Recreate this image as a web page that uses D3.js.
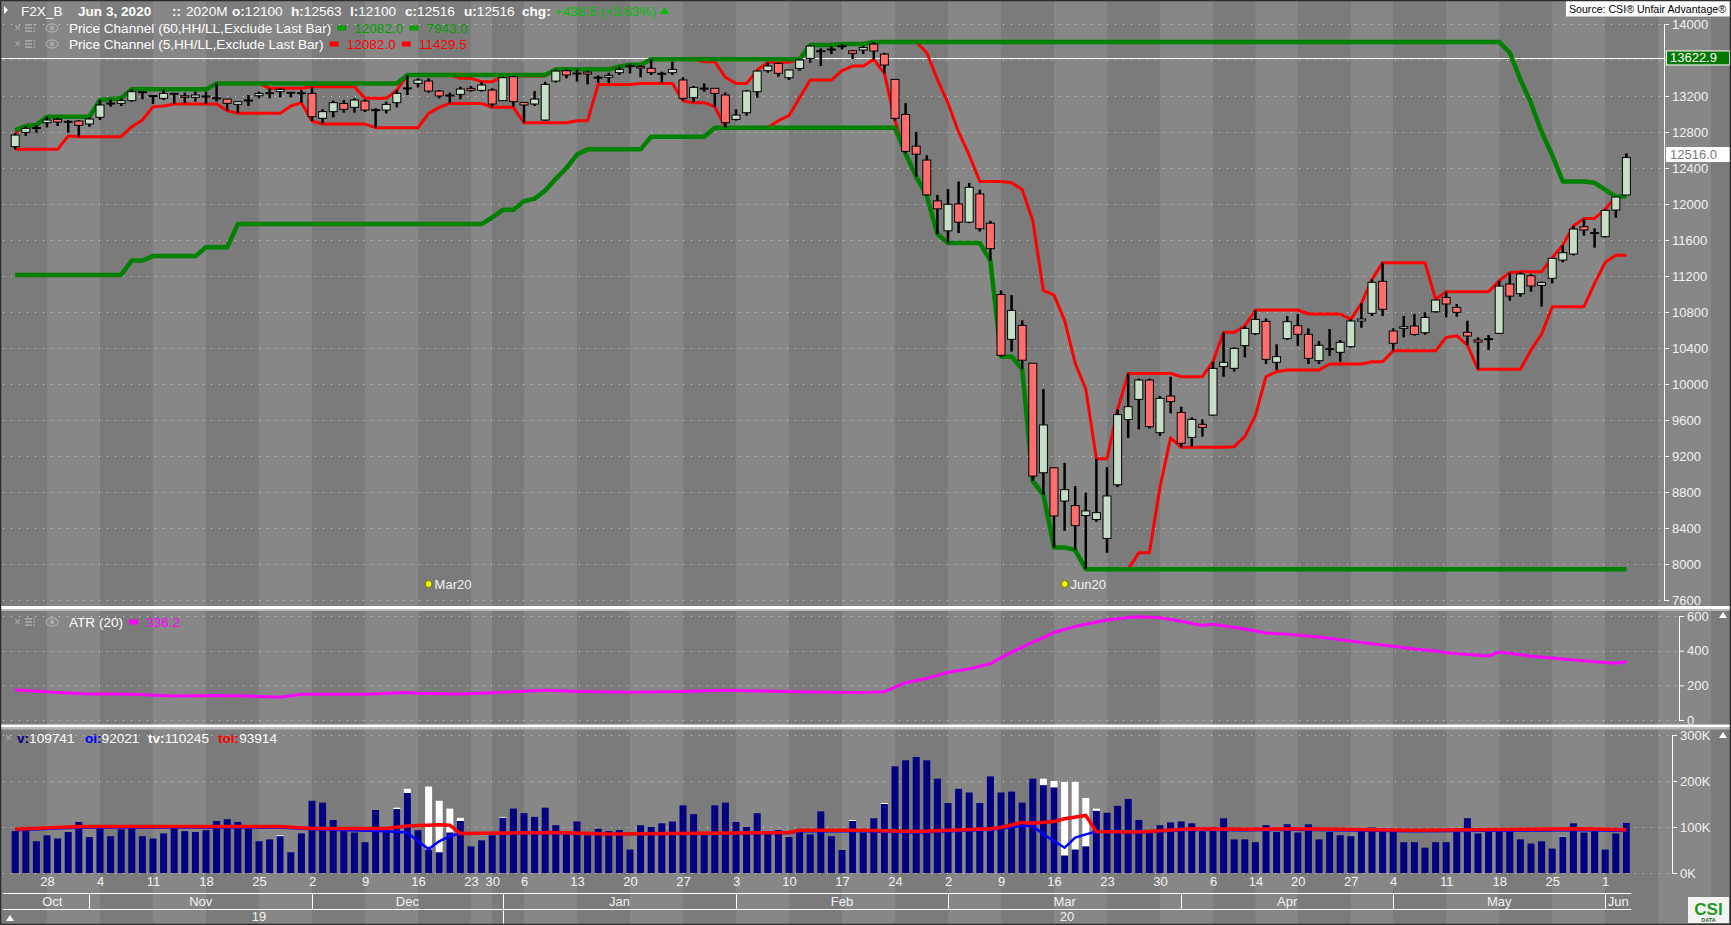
<!DOCTYPE html>
<html>
<head>
<meta charset="utf-8">
<title>F2X_B Price Channel / ATR / Volume</title>
<script src="https://cdn.jsdelivr.net/npm/d3@7"></script>
<style>
  html, body { margin: 0; padding: 0; background: #7f7f7f; overflow: hidden; }
  svg { display: block; font-family: "Liberation Sans", Arial, sans-serif; }
</style>
</head>
<body>
<svg id="chart" width="1731" height="925"></svg>
<script>
// ---- data ----
const dates = [
  "2019-10-23","2019-10-24","2019-10-25","2019-10-28","2019-10-29","2019-10-30","2019-10-31",
  "2019-11-01","2019-11-04","2019-11-05","2019-11-06","2019-11-07","2019-11-08","2019-11-11","2019-11-12",
  "2019-11-13","2019-11-14","2019-11-15","2019-11-18","2019-11-19","2019-11-20","2019-11-21","2019-11-22",
  "2019-11-25","2019-11-26","2019-11-27","2019-11-28","2019-11-29",
  "2019-12-02","2019-12-03","2019-12-04","2019-12-05","2019-12-06","2019-12-09","2019-12-10","2019-12-11",
  "2019-12-12","2019-12-13","2019-12-16","2019-12-17","2019-12-18","2019-12-19","2019-12-20","2019-12-23",
  "2019-12-27","2019-12-30",
  "2020-01-02","2020-01-03","2020-01-06","2020-01-07","2020-01-08","2020-01-09","2020-01-10","2020-01-13",
  "2020-01-14","2020-01-15","2020-01-16","2020-01-17","2020-01-20","2020-01-21","2020-01-22","2020-01-23",
  "2020-01-24","2020-01-27","2020-01-28","2020-01-29","2020-01-30","2020-01-31",
  "2020-02-03","2020-02-04","2020-02-05","2020-02-06","2020-02-07","2020-02-10","2020-02-11","2020-02-12",
  "2020-02-13","2020-02-14","2020-02-17","2020-02-18","2020-02-19","2020-02-20","2020-02-21","2020-02-24",
  "2020-02-25","2020-02-26","2020-02-27","2020-02-28",
  "2020-03-02","2020-03-03","2020-03-04","2020-03-05","2020-03-06","2020-03-09","2020-03-10","2020-03-11",
  "2020-03-12","2020-03-13","2020-03-16","2020-03-17","2020-03-18","2020-03-19","2020-03-20","2020-03-23",
  "2020-03-24","2020-03-25","2020-03-26","2020-03-27","2020-03-30","2020-03-31",
  "2020-04-01","2020-04-02","2020-04-03","2020-04-06","2020-04-07","2020-04-08","2020-04-09","2020-04-14",
  "2020-04-15","2020-04-16","2020-04-17","2020-04-20","2020-04-21","2020-04-22","2020-04-23","2020-04-24",
  "2020-04-27","2020-04-28","2020-04-29","2020-04-30",
  "2020-05-04","2020-05-05","2020-05-06","2020-05-07","2020-05-08","2020-05-11","2020-05-12","2020-05-13",
  "2020-05-14","2020-05-15","2020-05-18","2020-05-19","2020-05-20","2020-05-21","2020-05-22","2020-05-25",
  "2020-05-26","2020-05-27","2020-05-28","2020-05-29",
  "2020-06-01","2020-06-02","2020-06-03"
]

const open = [
  12637,12796,12846,12903,12941,12912,12922,12889,12963,13112,13118,13148,13248,13205,13174,13230,13203,13185,
  13200,13180,13166,13107,13150,13203,13230,13248,13242,13237,13229,12952,13026,13118,13074,13144,13048,13044,
  13126,13285,13340,13366,13255,13207,13218,13285,13263,13266,13148,13414,13129,13111,12933,13366,13481,13450,
  13466,13407,13407,13459,13526,13529,13507,13452,13459,13378,13181,13285,13285,13211,12940,13014,13248,13481,
  13563,13403,13507,13618,13703,13718,13755,13703,13711,13777,13666,13385,12995,12643,12488,12034,11702,12001,
  11798,12112,11787,10994,10496,10651,10231,9014,9069,8700,8649,8538,8494,8284,8881,9604,9829,10044,9459,9866,
  9685,9407,9552,9655,10193,10174,10426,10559,10696,10241,10504,10648,10552,10259,10389,10352,10415,10700,10785,
  11141,10589,10618,10644,10570,10803,10963,10851,10574,10489,10500,10563,11111,11003,11203,11096,11174,11377,
  11444,11748,11681,11637,11933,12100
]
const high = [
  12785,12866,12878,12970,12959,12933,12930,12963,13155,13163,13174,13274,13252,13207,13274,13233,13237,13248,
  13248,13340,13170,13144,13211,13248,13285,13285,13244,13266,13303,13052,13148,13155,13174,13163,13063,13137,
  13266,13433,13396,13396,13266,13237,13303,13311,13359,13285,13414,13422,13133,13255,13359,13496,13496,13496,
  13481,13429,13459,13526,13548,13544,13607,13470,13581,13407,13311,13340,13290,13240,13051,13266,13488,13574,
  13570,13493,13607,13766,13729,13755,13777,13711,13755,13800,13681,13385,13120,12801,12543,12101,12167,12250,
  12235,12160,11813,11039,10987,10707,10231,9943,9069,9124,8866,8793,9169,9077,9716,10118,10060,10060,9866,10081,
  9748,9629,9607,10248,10574,10407,10644,10822,10729,10441,10755,10778,10618,10478,10611,10489,10718,10896,11163,
  11348,10618,10755,10777,10796,10940,11026,10889,10703,10518,10544,11148,11237,11248,11222,11137,11403,11544,
  11755,11840,11729,11940,12082,12563
]
const low = [
  12607,12755,12792,12851,12866,12792,12748,12859,12933,13081,13089,13137,13163,13111,13155,13111,13118,13137,
  13111,13137,13037,13007,13089,13174,13174,13185,13185,13126,12922,12888,12963,13015,13015,13022,12848,13007,
  13074,13211,13296,13237,13174,13118,13163,13248,13248,13074,13148,13081,12903,13089,12926,13348,13396,13359,
  13329,13348,13340,13433,13451,13407,13433,13340,13433,13148,13126,13248,13081,12851,12926,12981,13181,13459,
  13415,13377,13481,13570,13533,13666,13718,13611,13666,13607,13452,12926,12560,12304,12093,11666,11566,11677,
  11787,11695,11370,10305,10360,10165,8922,8771,8184,8368,8155,7943,8468,8125,8855,9402,9496,9507,9422,9674,
  9296,9304,9415,9648,10081,10137,10296,10544,10222,10156,10489,10422,10222,10222,10311,10248,10407,10626,10755,
  10755,10370,10518,10537,10548,10792,10740,10748,10433,10163,10377,10555,10925,10970,11026,10859,11118,11352,
  11429.5,11648,11515,11629,11848,12100
]
const close = [
  12766,12840,12850,12933,12911,12918,12874,12944,13100,13122,13148,13248,13244,13201,13229,13225,13185,13211,
  13196,13170,13118,13137,13155,13229,13237,13274,13240,13233,12970,13026,13126,13052,13155,13044,13044,13107,
  13229,13290,13377,13255,13200,13211,13277,13263,13322,13111,13403,13137,13100,13166,13329,13477,13433,13455,
  13444,13409,13429,13496,13540,13511,13459,13448,13496,13174,13296,13287,13229,12903,12988,13255,13477,13533,
  13452,13489,13600,13755,13700,13722,13758,13674,13740,13700,13544,12952,12585,12554,12101,11946,11997,11798,
  12186,11725,11503,10319,10817,10264,8977,9545,8534,8826,8427,8590,8571,8756,9660,9748,10044,9526,9841,9804,
  9341,9607,9518,10174,10241,10396,10618,10718,10274,10304,10692,10552,10285,10430,10393,10463,10700,10722,11130,
  10830,10452,10637,10551,10740,10933,10889,10796,10533,10466,10504,11088,10977,11222,11089,11129,11396,11459,
  11722,11711,11683,11929,12077.5,12516
]

// volume of the back-adjusted contract, thousands
const volume = [
  91,91,69,82,75,89,111,78,99,80,95,99,80,75,86,99,91,89,93,113,117,111,96,69,73,80,45,86,157,153,115,99,88,67,
  137,93,139,174,93,51,45,88,113,58,71,82,120,140,130,122,142,104,89,112,82,96,91,93,51,104,100,108,112,147,128,
  88,147,153,111,100,130,90,93,78,96,84,134,80,50,113,88,119,150,232,245,252,245,205,152,183,175,152,210,175,177,
  153,205,191,186,38,51,58,135,131,146,161,115,88,104,110,112,108,91,99,119,73,73,67,104,89,106,88,106,73,89,82,
  80,96,99,91,96,67,67,55,67,67,95,119,86,95,91,95,73,64,69,53,79,108,88,96,51,86,109.741
]
// total volume (all contracts) where it shows above the bar: [bar index, thousands]
const totalVolume = [
  [25,82],[36,142],[37,183],[39,188],[40,157],[41,140],[42,120],[46,122],[79,115],[82,152],
  [97,205],[98,200],[99,198],[100,198],[101,163],[102,140],[146,80],[152,110.245]
]
// open interest (blue) and total open interest (red): [bar index, thousands]
const openInterest = [
  [0,93],[6,99],[25,99],[28,95],[35,91],[37,88],[38,69],[39,52],[40,69],[41,80],[42,86],[51,87],[56,84],
  [73,87],[74,91],[80,91],[85,88],[92,94],[95,102],[96,102],[97,84],[99,55],[100,77],[101,84],[102,90],
  [106,88],[111,94],[116,93],[121,94],[132,91],[148,93],[152,92.021]
]
const totalOpenInterest = [
  [0,95],[6,101],[25,101],[28,97],[35,97],[37,102],[40,105],[41,104],[42,86],[51,88],[56,85],[73,88],
  [74,93],[80,93],[85,90],[92,96],[93,99],[95,110],[96,108],[98,112],[99,118],[101,125],[102,90],[106,89],
  [111,96],[116,95],[121,96],[132,93],[148,96],[152,93.914]
]
// ATR(20) line as read: [bar index, points]
const atr = [
  [0,173],[2,166],[4,158],[7,150],[8,152],[11,148],[15,138],[19,141],[22,138],[25,131],[27,148],[33,148],
  [37,158],[38,155],[42,150],[46,160],[50,172],[53,165],[58,160],[63,165],[67,172],[70,168],[75,162],[80,158],
  [82,163],[84,215],[86,240],[88,275],[90,295],[92,325],[93,360],[95,420],[96,450],[97,475],[98,505],[100,540],
  [101,552],[103,577],[105,592],[106,595],[108,590],[110,570],[112,545],[113,552],[116,525],[118,502],[120,495],
  [123,479],[126,455],[128,440],[130,425],[132,410],[134,398],[135,388],[137,378],[139,370],[140,392],[141,385],
  [143,368],[145,358],[147,346],[149,336],[151,328],[152,336.2]
]
// 60-bar channel before the window reaches back into the visible bars: [from bar index, value]
const high60Seed = [[0,12822]]
const low60Seed = [
  [0,11212],[11,11372],[13,11421],[18,11519],[21,11777],[45,11850],[46,11935],[48,12030],[49,12059],
  [50,12150],[51,12280],[52,12400],[53,12549],[54,12650]
]

const priceTicks = [14000,13600,13200,12800,12400,12000,11600,11200,10800,10400,10000,9600,9200,8800,8400,8000,7600]
const hiddenPriceLabel = 13600   // sits under the 13622.9 flag in the original
const atrTicks = [600,400,200,0]
const volTicks = [300,200,100,0]
const weekTicks = [
  "2019-10-28","2019-11-04","2019-11-11","2019-11-18","2019-11-25","2019-12-02","2019-12-09","2019-12-16",
  "2019-12-23","2019-12-30","2020-01-06","2020-01-13","2020-01-20","2020-01-27","2020-02-03","2020-02-10",
  "2020-02-17","2020-02-24","2020-03-02","2020-03-09","2020-03-16","2020-03-23","2020-03-30","2020-04-06",
  "2020-04-14","2020-04-20","2020-04-27","2020-05-04","2020-05-11","2020-05-18","2020-05-25","2020-06-01"
]
const monthStarts = ["2019-10-23","2019-11-01","2019-12-02","2020-01-02","2020-02-03","2020-03-02","2020-04-01","2020-05-04","2020-06-01"]
const monthLabels = ["Oct","Nov","Dec","Jan","Feb","Mar","Apr","May","Jun"]
const yearStarts = ["2019-10-23","2020-01-02"]
const yearLabels = ["19","20"]
const rollMarks = [["2019-12-17","Mar20"],["2020-03-17","Jun20"]]
const lastMarker = 13622.9

// ---- layout ----
const W = 1731, H = 925
const N = dates.length
const svg = d3.select("#chart")

const x = d3.scalePoint().domain(dates).range([15.2, 15.2 + 10.6 * (N - 1)])
const xi = i => x(dates[i])
const yP = d3.scaleLinear().domain([7600, 14000]).range([600, 24])
const yA = d3.scaleLinear().domain([0, 600]).range([720, 616])
const yV = d3.scaleLinear().domain([0, 300]).range([873, 735])

const darkBg = "#7b7b7b", lightBg = "#878787"
const axisText = "#f2f2f2"
const headSize = 13.6

// price channel, HH/LL over the last n bars, the live bar excluded
function stepValue(breaks, i) {
  let v = breaks[0][1]
  for (const b of breaks) if (b[0] <= i) v = b[1]
  return v
}
function channel(n, seedHi, seedLo) {
  const hi = [], lo = []
  for (let i = 0; i < N; i++) {
    const j = i === N - 1 ? i - 1 : i
    let h = -Infinity, l = Infinity
    for (let k = Math.max(0, j - n + 1); k <= j; k++) {
      h = Math.max(h, high[k]); l = Math.min(l, low[k])
    }
    if (j - n + 1 < 0 && seedHi) {
      h = Math.max(h, stepValue(seedHi, j))
      l = Math.min(l, stepValue(seedLo, j))
    }
    hi.push(h); lo.push(l)
  }
  return { hi, lo }
}
const ch60 = channel(60, high60Seed, low60Seed)
const ch5 = channel(5)

// ---- weekly background stripes ----
const bounds = [0, ...weekTicks.map(d => x(d))]
let b = bounds[bounds.length - 1]
while (b + x.step() * 5 < W) { b += x.step() * 5; bounds.push(b) }
bounds.push(W)
svg.append("g").selectAll("rect").data(d3.range(bounds.length - 1)).join("rect")
  .attr("x", s => bounds[s]).attr("y", 0)
  .attr("width", s => bounds[s + 1] - bounds[s]).attr("height", H)
  .attr("fill", s => s % 2 ? lightBg : darkBg)

// ---- dotted grid ----
function grid(ticks, scale, x2) {
  svg.append("g").selectAll("line").data(ticks).join("line")
    .attr("x1", 3).attr("x2", x2)
    .attr("y1", d => Math.round(scale(d)) + 0.5).attr("y2", d => Math.round(scale(d)) + 0.5)
    .attr("stroke", "#d6d6d6").attr("stroke-dasharray", "1 7")
}
grid(priceTicks, yP, 1660)
grid(atrTicks, yA, 1676)
grid(volTicks, yV, 1668)

// reference line
svg.append("line")
  .attr("x1", 0).attr("x2", 1664)
  .attr("y1", Math.round(yP(lastMarker)) + 0.5).attr("y2", Math.round(yP(lastMarker)) + 0.5)
  .attr("stroke", "#ffffff").attr("stroke-width", 1)

// ---- channels ----
const lineP = d3.line().x((d, i) => xi(i)).y(d => yP(d))
const gLines = svg.append("g").attr("fill", "none").attr("stroke-linejoin", "round")
gLines.append("path").attr("d", lineP(ch5.hi)).attr("stroke", "#ff0000").attr("stroke-width", 3)
gLines.append("path").attr("d", lineP(ch5.lo)).attr("stroke", "#ff0000").attr("stroke-width", 3)
gLines.append("path").attr("d", lineP(ch60.hi)).attr("stroke", "#008000").attr("stroke-width", 4.5)
gLines.append("path").attr("d", lineP(ch60.lo)).attr("stroke", "#008000").attr("stroke-width", 4.5)

// ---- candles ----
const gC = svg.append("g")
gC.selectAll("line").data(d3.range(N)).join("line")
  .attr("x1", xi).attr("x2", xi)
  .attr("y1", i => yP(high[i])).attr("y2", i => yP(low[i]))
  .attr("stroke", "#000").attr("stroke-width", 2.5)
gC.selectAll("rect").data(d3.range(N)).join("rect")
  .attr("x", i => xi(i) - 4).attr("width", 8)
  .attr("y", i => yP(Math.max(open[i], close[i])))
  .attr("height", i => Math.max(1, Math.abs(yP(open[i]) - yP(close[i]))))
  .attr("fill", i => close[i] >= open[i] ? "#c6dec6" : "#ff6d6d")
  .attr("stroke", "#000").attr("stroke-width", 1)

// contract roll markers
const gRoll = svg.append("g")
gRoll.selectAll("circle").data(rollMarks).join("circle")
  .attr("cx", d => x(d[0])).attr("cy", 584).attr("r", 3.5)
  .attr("fill", "#ffff00").attr("stroke", "#6b6b00").attr("stroke-width", 1)
gRoll.selectAll("text").data(rollMarks).join("text")
  .attr("x", d => x(d[0]) + 6).attr("y", 588.5)
  .attr("fill", "#f2f2f2").attr("font-size", 13).text(d => d[1])

// ---- ATR ----
svg.append("path")
  .attr("d", d3.line().x(d => xi(d[0])).y(d => yA(d[1]))(atr))
  .attr("fill", "none").attr("stroke", "#ff00ff").attr("stroke-width", 3)

// ---- volume ----
const gV = svg.append("g")
gV.selectAll("rect.tv").data(totalVolume).join("rect").attr("class", "tv")
  .attr("x", d => xi(d[0]) - 3.5).attr("width", 7)
  .attr("y", d => yV(d[1])).attr("height", d => yV(0) - yV(d[1]))
  .attr("fill", "#ffffff")
gV.selectAll("rect.v").data(volume).join("rect").attr("class", "v")
  .attr("x", (d, i) => xi(i) - 3.5).attr("width", 7)
  .attr("y", d => yV(d)).attr("height", d => yV(0) - yV(d))
  .attr("fill", "#000080")
const lineV = d3.line().x(d => xi(d[0])).y(d => yV(d[1]))
gV.append("path").attr("d", lineV(openInterest)).attr("fill", "none").attr("stroke", "#0000ff").attr("stroke-width", 2.5)
gV.append("path").attr("d", lineV(totalOpenInterest)).attr("fill", "none").attr("stroke", "#ff0000").attr("stroke-width", 3.5)

// ---- panel separators ----
const seps = [606, 724.5]
seps.forEach(y => {
  svg.append("rect").attr("x", 0).attr("y", y).attr("width", W).attr("height", 3).attr("fill", "#ffffff")
  svg.append("rect").attr("x", 0).attr("y", y + 3).attr("width", W).attr("height", 2).attr("fill", "#b9b9b9")
})

// ---- right axes ----
function styleAxis(g) {
  g.selectAll("path, line").attr("stroke", "#ffffff")
  g.selectAll("text").attr("fill", axisText).attr("font-size", 13)
    .attr("font-family", "'Liberation Sans', Arial, sans-serif")
}
svg.append("g").attr("transform", "translate(1664,0)")
  .call(d3.axisRight(yP).tickValues(priceTicks).tickSize(5).tickPadding(3)
    .tickFormat(d => d === hiddenPriceLabel ? "" : String(d)))
  .call(styleAxis)
svg.append("g").attr("transform", "translate(1679,0)")
  .call(d3.axisRight(yA).tickValues(atrTicks).tickSize(5).tickPadding(3))
  .call(styleAxis)
svg.append("g").attr("transform", "translate(1672,0)")
  .call(d3.axisRight(yV).tickValues(volTicks).tickSize(5).tickPadding(3).tickFormat(d => d + "K"))
  .call(styleAxis)

// value flags on the price axis
function flag(value, fill, color, dy) {
  const y = yP(value) + dy
  svg.append("rect").attr("x", 1666.5).attr("y", y - 7).attr("width", 63).attr("height", 14)
    .attr("fill", fill).attr("stroke", "#ffffff").attr("stroke-width", 1)
  svg.append("text").attr("x", 1670).attr("y", y + 4.5).attr("fill", color)
    .attr("font-size", 13).text(d3.format(".1f")(value))
}
flag(lastMarker, "#007800", "#ffffff", 0)
flag(close[N - 1], "#ffffff", "#7a7a7a", -3)

// small panel triangles
const tri = (cx, cy) => svg.append("path")
  .attr("d", `M${cx - 4},${cy + 3}L${cx + 4},${cy + 3}L${cx},${cy - 3}Z`).attr("fill", "#ffffff")
tri(1723, 615); tri(1723, 735); tri(10, 918)

// ---- date axis ----
const gD = svg.append("g").attr("transform", "translate(0,873)")
  .call(d3.axisBottom(x).tickValues(weekTicks).tickSize(0).tickPadding(4)
    .tickFormat(d => String(+d.slice(8))))
gD.select(".domain").remove()
gD.selectAll("text").attr("fill", axisText).attr("font-size", 13)
  .attr("font-family", "'Liberation Sans', Arial, sans-serif")

const axisEnd = xi(N - 1) + 5
const rowLine = y => svg.append("line").attr("x1", 3).attr("x2", axisEnd)
  .attr("y1", y).attr("y2", y).attr("stroke", "#ffffff").attr("stroke-width", 1)
rowLine(893.5); rowLine(909.5)

function periodRow(starts, labels, y0, y1) {
  const xs = starts.map(d => x(d))
  xs.forEach((xx, k) => {
    if (k > 0) svg.append("line").attr("x1", Math.round(xx) + 0.5).attr("x2", Math.round(xx) + 0.5)
      .attr("y1", y0).attr("y2", y1).attr("stroke", "#ffffff")
    const xe = k < xs.length - 1 ? xs[k + 1] : axisEnd
    svg.append("text").attr("x", (xx + xe) / 2).attr("y", (y0 + y1) / 2 + 4.5)
      .attr("text-anchor", "middle").attr("fill", axisText).attr("font-size", 13).text(labels[k])
  })
}
periodRow(monthStarts, monthLabels, 893.5, 909.5)
periodRow(yearStarts, yearLabels, 909.5, 924)

// ---- headers ----
const gH = svg.append("g").attr("font-size", headSize).style("white-space", "pre")

function icons(x0, y) {
  gH.append("text").attr("x", x0).attr("y", y + 4).attr("fill", "#a9a9a9").attr("font-size", 12).text("×")
  for (let k = 0; k < 3; k++) {
    gH.append("rect").attr("x", x0 + 11).attr("y", y - 4 + k * 3.2).attr("width", 7).attr("height", 1.6).attr("fill", "#a9a9a9")
    gH.append("rect").attr("x", x0 + 19.5).attr("y", y - 4 + k * 3.2).attr("width", 1.6).attr("height", 1.6).attr("fill", "#a9a9a9")
  }
  gH.append("ellipse").attr("cx", x0 + 38).attr("cy", y).attr("rx", 6).attr("ry", 4)
    .attr("fill", "none").attr("stroke", "#a9a9a9").attr("stroke-width", 1.3)
  gH.append("circle").attr("cx", x0 + 38).attr("cy", y).attr("r", 2.2).attr("fill", "#a9a9a9")
}
// lays pieces left to right; a piece is a text or a colour swatch, with an optional gap before it
function flow(x0, y, pieces) {
  let cx = x0
  pieces.forEach(p => {
    cx += p.gap || 0
    if (p.swatch) {
      gH.append("rect").attr("x", cx).attr("y", y - 2.5).attr("width", 9).attr("height", 5).attr("fill", p.swatch)
      cx += 9
    } else {
      const t = gH.append("text").attr("x", cx).attr("y", y + 5).attr("fill", p.color || "#ffffff")
        .attr("font-weight", p.bold ? "bold" : "normal").text(p.t)
      cx += t.node().getComputedTextLength()
    }
  })
  return cx
}

// row 1
gH.append("path").attr("d", "M4,6L8,10L4,14Z").attr("fill", "#ffffff")
flow(21, 10.5, [{ t: "F2X_B" }])
flow(78, 10.5, [{ t: "Jun  3, 2020", bold: true }])
flow(172, 10.5, [{ t: "::", bold: true }])
flow(186, 10.5, [{ t: "2020M" }])
const quote = [["o:", "12100", 232], ["h:", "12563", 291], ["l:", "12100", 350], ["c:", "12516", 405], ["u:", "12516", 464]]
quote.forEach(q => flow(q[2], 10.5, [{ t: q[0], bold: true }, { t: q[1] }]))
const chgEnd = flow(522, 10.5, [{ t: "chg:", bold: true }, { t: "+438.5 (+3.63%)", color: "#00c000", gap: 4 }])
gH.append("path").attr("d", `M${chgEnd + 4},14L${chgEnd + 13},14L${chgEnd + 8.5},7Z`).attr("fill", "#00c000")

// rows 2 and 3: price channel legends
const fmt1 = d3.format(".1f")
icons(14, 28)
flow(69, 28, [
  { t: "Price Channel (60,HH/LL,Exclude Last Bar)" },
  { swatch: "#00a000", gap: 6 }, { t: fmt1(ch60.hi[N - 1]), color: "#00a000", gap: 8 },
  { swatch: "#00a000", gap: 6 }, { t: fmt1(ch60.lo[N - 1]), color: "#00a000", gap: 8 }
])
icons(14, 44)
flow(69, 44, [
  { t: "Price Channel (5,HH/LL,Exclude Last Bar)" },
  { swatch: "#ff0000", gap: 6 }, { t: fmt1(ch5.hi[N - 1]), color: "#ff0000", gap: 8 },
  { swatch: "#ff0000", gap: 6 }, { t: fmt1(ch5.lo[N - 1]), color: "#ff0000", gap: 8 }
])

// ATR header
icons(14, 622)
flow(69, 622, [{ t: "ATR (20)" }, { swatch: "#ff00ff", gap: 6 }, { t: "336.2", color: "#ff00ff", gap: 8 }])

// volume header
gH.append("text").attr("x", 5).attr("y", 742).attr("fill", "#a9a9a9").attr("font-size", 12).text("×")
const volHead = [["v:", "109741", "#000080", 17], ["oi:", "92021", "#0000ff", 85], ["tv:", "110245", "#ffffff", 148], ["toi:", "93914", "#ff0000", 218]]
volHead.forEach(v => flow(v[3], 738, [{ t: v[0], color: v[2], bold: true }, { t: v[1] }]))

// source box
svg.append("rect").attr("x", 1566).attr("y", 0).attr("width", 165).attr("height", 16.5).attr("fill", "#ffffff")
svg.append("text").attr("x", 1569).attr("y", 12.5).attr("fill", "#000000").attr("font-size", 11)
  .attr("textLength", 157).attr("lengthAdjust", "spacingAndGlyphs")
  .text("Source: CSI® Unfair Advantage®")

// CSI logo
const gL = svg.append("g")
gL.append("rect").attr("x", 1688).attr("y", 897).attr("width", 41).attr("height", 26).attr("fill", "#f4f4f4")
gL.append("text").attr("x", 1708.5).attr("y", 915).attr("text-anchor", "middle").attr("font-size", 17)
  .attr("font-weight", "bold").attr("fill", "#1f9a1f").text("CSI")
gL.append("text").attr("x", 1708.5).attr("y", 922).attr("text-anchor", "middle").attr("font-size", 5.5)
  .attr("font-weight", "bold").attr("fill", "#1f5f1f").text("DATA")

// outer border
svg.append("rect").attr("x", 0.5).attr("y", 0.5).attr("width", W - 1).attr("height", H - 1)
  .attr("fill", "none").attr("stroke", "#2b2b2b").attr("stroke-width", 1.5)
</script>
</body>
</html>
